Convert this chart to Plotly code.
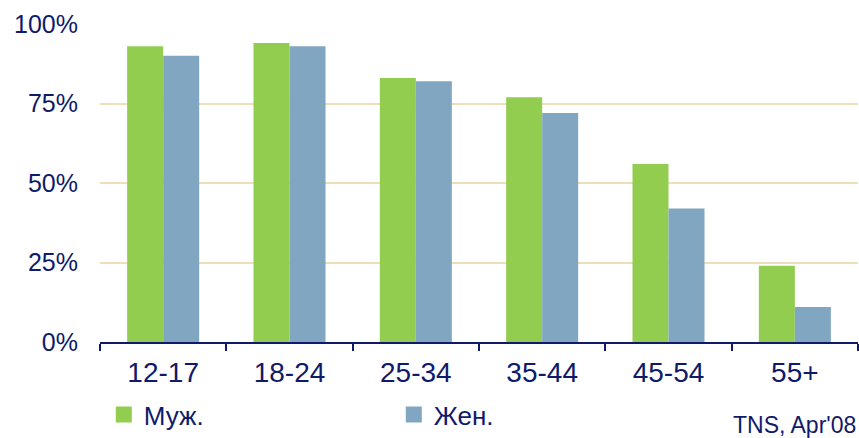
import plotly.graph_objects as go

categories = ["12-17", "18-24", "25-34", "35-44", "45-54", "55+"]
men = [93, 94, 83, 77, 56, 24]
women = [90, 93, 82, 72, 42, 11]
series_names = ["Муж.", "Жен."]
y_ticks = [0, 25, 50, 75, 100]
y_tick_labels = ["0%", "25%", "50%", "75%", "100%"]

GREEN = "#92CD4F"
BLUE = "#80A6C2"
NAVY = "#0F1A6B"
FONT = "Liberation Sans, Arial, sans-serif"

fig = go.Figure()
fig.add_trace(go.Bar(x=categories, y=men, name=series_names[0], marker_color=GREEN,
                     marker_line_width=0, showlegend=False))
fig.add_trace(go.Bar(x=categories, y=women, name=series_names[1], marker_color=BLUE,
                     marker_line_width=0, showlegend=False))
# legend proxies with larger square symbols
fig.add_trace(go.Scatter(x=[None], y=[None], mode="markers", name=series_names[0],
                         marker=dict(symbol="square", size=16, color=GREEN)))
fig.add_trace(go.Scatter(x=[None], y=[None], mode="markers", name=series_names[1],
                         marker=dict(symbol="square", size=16, color=BLUE)))

fig.update_layout(
    width=859, height=438,
    margin=dict(l=100, r=1, t=24, b=95),
    plot_bgcolor="white", paper_bgcolor="white",
    barmode="group", bargap=0.43, bargroupgap=0,
    font=dict(family=FONT, color=NAVY),
    showlegend=True,
    legend=dict(orientation="h", x=0.005, y=-0.225, xanchor="left", yanchor="middle",
                font=dict(size=26, color=NAVY), entrywidth=245, itemwidth=30,
                bgcolor="rgba(0,0,0,0)"),
)
fig.update_yaxes(range=[0, 100], tickvals=y_ticks, ticktext=y_tick_labels,
                 showgrid=True, gridcolor="#EEDFB8", gridwidth=2,
                 zeroline=False, showline=False, ticks="",
                 tickfont=dict(size=25, color=NAVY), ticklabelstandoff=21)
fig.update_xaxes(showline=True, linecolor=NAVY, linewidth=2,
                 ticks="outside", tickson="boundaries", ticklen=7, tickwidth=2,
                 tickcolor=NAVY, showgrid=False,
                 tickfont=dict(size=28, color=NAVY), ticklabelstandoff=4)
fig.add_annotation(text="TNS, Apr'08", xref="paper", yref="paper", x=1.0, y=-0.26,
                   xanchor="right", yanchor="middle", showarrow=False,
                   font=dict(size=23, color=NAVY, family=FONT))

fig.write_html("out.html")
